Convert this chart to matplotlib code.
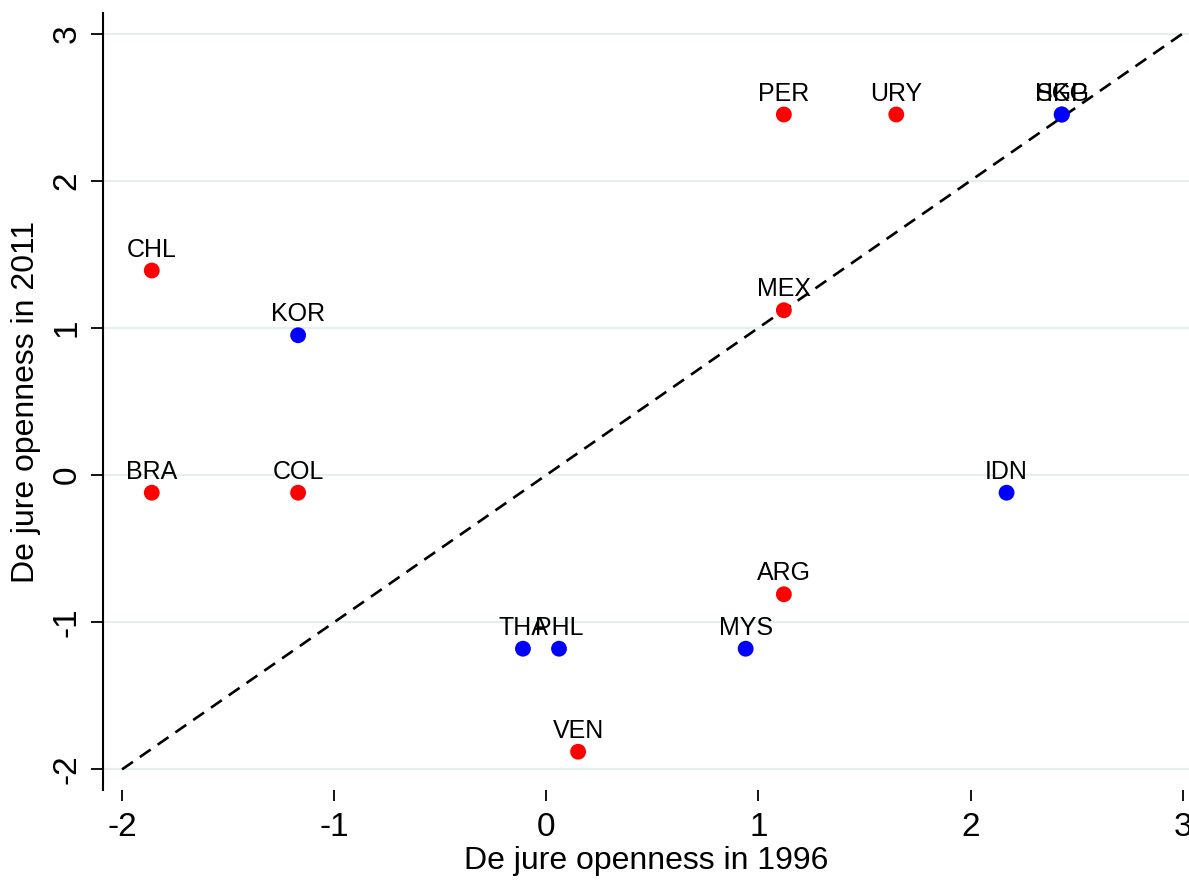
import numpy as np
import matplotlib
matplotlib.use("Agg")
import matplotlib.pyplot as plt

# Data negara: keterbukaan de jure 1996 vs 2011
countries = ["CHL", "KOR", "BRA", "COL", "PER", "URY", "SGP", "HKG",
             "MEX", "IDN", "ARG", "THA", "PHL", "MYS", "VEN"]
open_1996 = [-1.86, -1.17, -1.86, -1.17, 1.12, 1.65, 2.43, 2.43,
             1.12, 2.17, 1.12, -0.11, 0.06, 0.94, 0.15]
open_2011 = [1.39, 0.95, -0.12, -0.12, 2.45, 2.45, 2.45, 2.45,
             1.12, -0.12, -0.81, -1.18, -1.18, -1.18, -1.88]
region = ["LA", "AS", "LA", "LA", "LA", "LA", "AS", "AS",
          "LA", "AS", "LA", "AS", "AS", "AS", "LA"]

x_ticks = [-2, -1, 0, 1, 2, 3]
y_ticks = [-2, -1, 0, 1, 2, 3]
region_colors = {"LA": "#ff0000", "AS": "#0000ff"}

plt.rcParams["font.family"] = ["Liberation Sans", "DejaVu Sans"]

fig = plt.figure(figsize=(11.89, 8.81), dpi=100)
ax = fig.add_axes([0.0866, 0.1033, 0.9134, 0.882])

# Garis 45 derajat
ax.plot([-2, 3], [-2, 3], color="black", linestyle=(0, (5, 3.2)), linewidth=1.9, zorder=2)

# Titik dan label negara
for name, x, y, r in zip(countries, open_1996, open_2011, region):
    ax.scatter(x, y, s=130, color=region_colors[r], edgecolors="none", zorder=3)
    ax.annotate(name, (x, y), xytext=(0, 10), textcoords="offset points",
                ha="center", va="baseline", fontsize=18, color="black", zorder=4)

ax.set_xlim(-2.09, 3.03)
ax.set_ylim(-2.14, 3.14)
ax.set_xticks(x_ticks)
ax.set_yticks(y_ticks)
ax.set_xticklabels([str(t) for t in x_ticks], fontsize=24)
ax.set_yticklabels([str(t) for t in y_ticks], fontsize=24, rotation=90, va="center")

# Garis grid horizontal
ax.grid(axis="y", color="#e6eef0", linewidth=1.6, zorder=0)
ax.set_axisbelow(True)

# Spine: hanya kiri yang terlihat
for side in ["top", "right", "bottom"]:
    ax.spines[side].set_visible(False)
ax.spines["left"].set_linewidth(1.5)
ax.tick_params(axis="y", direction="out", length=8.5, width=1.3, pad=6)
ax.tick_params(axis="x", direction="out", length=8, width=1.3, pad=8)

ax.set_xlabel("De jure openness in 1996", fontsize=23, labelpad=2)
ax.set_ylabel("De jure openness in 2011", fontsize=23, labelpad=8)

fig.savefig("out.png", dpi=100)
